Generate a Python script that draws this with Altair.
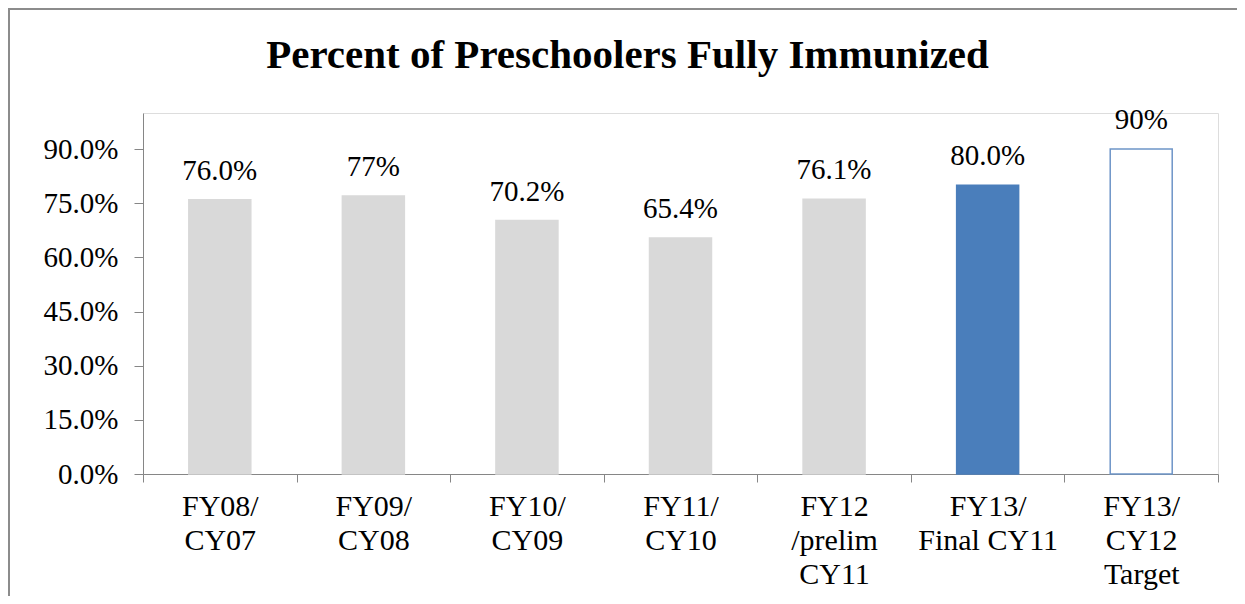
import altair as alt
import pandas as pd

categories = ["FY08/|CY07", "FY09/|CY08", "FY10/|CY09", "FY11/|CY10",
              "FY12|/prelim|CY11", "FY13/|Final CY11", "FY13/|CY12|Target"]
values = [0.760, 0.77, 0.702, 0.654, 0.761, 0.800, 0.90]
value_labels = ["76.0%", "77%", "70.2%", "65.4%", "76.1%", "80.0%", "90%"]
kinds = ["Actual", "Actual", "Actual", "Actual", "Actual", "Final", "Target"]
kind_domain = ["Actual", "Final", "Target"]
fill_colors = ["#D9D9D9", "#4A7EBB", "#FFFFFF"]
stroke_colors = ["#D9D9D9", "#4A7EBB", "#6E95C8"]
y_ticks = [0.0, 0.15, 0.30, 0.45, 0.60, 0.75, 0.90]
title_text = ["Percent of Preschoolers Fully Immunized"]

df = pd.DataFrame({"cat": categories, "value": values, "label": value_labels, "kind": kinds})
title_df = pd.DataFrame({"t": title_text})

FONT = "Liberation Serif"
GREY = "#868686"

x_enc = alt.X("cat:N", sort=categories,
              scale=alt.Scale(paddingInner=0, paddingOuter=0),
              axis=alt.Axis(title=None, labelExpr="split(datum.label, '|')",
                            labelAngle=0, labelFont=FONT, labelFontSize=30,
                            labelLineHeight=34, labelBaseline="top",
                            labelPadding=9, tickSize=8, tickBand="extent",
                            domainColor=GREY, tickColor=GREY, labelColor="black",
                            labelOverlap=False, labelLimit=0))
y_enc = alt.Y("value:Q", scale=alt.Scale(domain=[0, 1], nice=False),
              axis=alt.Axis(title=None, values=y_ticks, format=".1%",
                            labelFont=FONT, labelFontSize=29, tickSize=9,
                            labelPadding=16, grid=False, domainColor=GREY,
                            tickColor=GREY, labelColor="black"))

base = alt.Chart(df)

bars = base.mark_bar(size=62, strokeWidth=1.5).encode(
    x=x_enc, y=y_enc,
    fill=alt.Fill("kind:N", scale=alt.Scale(domain=kind_domain, range=fill_colors), legend=None),
    stroke=alt.Stroke("kind:N", scale=alt.Scale(domain=kind_domain, range=stroke_colors), legend=None),
)

labels = base.mark_text(dy=-20, baseline="alphabetic", font=FONT, fontSize=29,
                        color="black").encode(x=x_enc, y=y_enc, text="label:N")

title = alt.Chart(title_df).mark_text(font=FONT, fontSize=41, fontWeight="bold",
                                      baseline="alphabetic", align="center",
                                      color="black").encode(
    x=alt.value(484.5), y=alt.value(-45), text="t:N")

frame_df = pd.DataFrame({"k": [0]})
left_border = alt.Chart(frame_df).mark_rule(color="#8C8C8C", strokeWidth=2).encode(
    x=alt.value(-134), y=alt.value(-105), y2=alt.value(483))
top_border = alt.Chart(frame_df).mark_rule(color="#8C8C8C", strokeWidth=2).encode(
    x=alt.value(-135), x2=alt.value(1094), y=alt.value(-104))

chart = alt.layer(left_border, top_border, bars, labels, title).properties(
    width=1075, height=361,
    autosize=alt.AutoSizeParams(type="none"),
    padding={"left": 135, "top": 105, "right": 19, "bottom": 122},
).configure_view(stroke=None).configure(
    background="white", font=FONT
).configure_text(font=FONT).configure_axis(labelFont=FONT)

chart.save("out.html", embed_options={"renderer": "svg", "actions": False})
